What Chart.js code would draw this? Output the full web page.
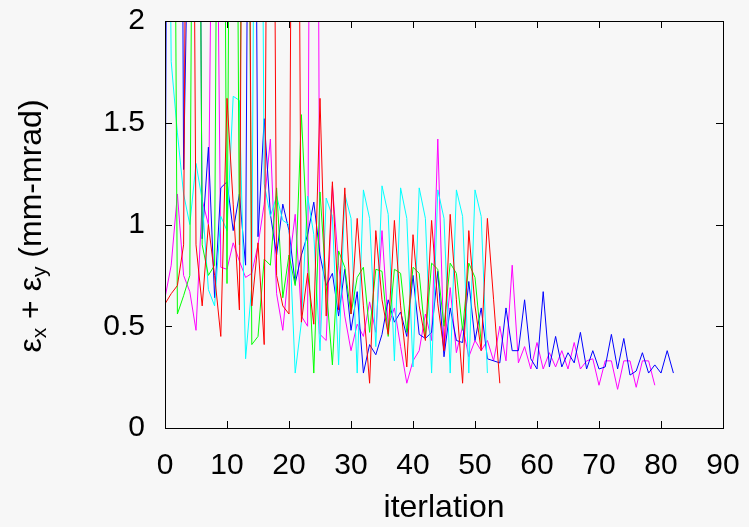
<!DOCTYPE html>
<html>
<head>
<meta charset="utf-8">
<script src="https://cdn.jsdelivr.net/npm/chart.js@4"></script>
<style>
  html, body { margin: 0; padding: 0; background: #f7f7f7; }
  #wrap { width: 749px; height: 527px; }
</style>
</head>
<body>
<div id="wrap"><canvas id="myChart" width="749" height="527"></canvas></div>
<script>
// emittance per iteration, one list per run (values above 2 are off the top of the plot)
const redVals = [0.61, 0.66, 0.7, 0.9, 6, 0.9, 0.6, 1.0, 0.75, 0.45, 1.62, 1.1, 0.58, 6, 0.6, 0.91, 0.41, 6, 0.75, 0.6,
    0.56, 6, 0.52, 0.76, 0.51, 1.62, 0.55, 1.21, 0.58, 1.18, 0.56, 1.03, 0.6, 0.22, 0.97, 0.63, 0.46, 1.02, 0.6, 0.3,
    0.95, 0.6, 0.43, 1.02, 0.61, 0.38, 1.05, 0.63, 0.22, 0.97, 0.6, 0.38, 1.03, 0.63, 0.22];
const greenVals = [6, 6, 0.56, 0.65, 0.75, 6, 0.9, 0.75, 0.8, 6, 0.71, 6, 0.9, 6, 0.41, 0.45, 0.83, 0.8, 1.18, 0.64,
    0.85, 0.7, 1.54, 0.9, 0.27, 1.16, 0.7, 0.31, 0.87, 0.79, 0.56, 0.74, 0.79, 0.47, 0.78, 0.77, 0.45, 0.78, 0.76, 0.47,
    0.79, 0.76, 0.44, 0.81, 0.78, 0.5, 0.81, 0.76, 0.48, 0.81, 0.74, 0.42];
const cyanVals = [5, 1.8, 1.45, 1.15, 1.0, 1.3, 1.12, 0.68, 0.6, 1.04, 0.97, 1.63, 1.61, 0.34, 0.7, 6, 1.2, 1.04, 1.14, 1.02,
    1.0, 0.27, 0.52, 1.14, 0.95, 0.38, 1.13, 1.04, 0.31, 1.15, 1.03, 0.27, 1.17, 1.03, 0.4, 1.19, 1.05, 0.33, 1.18, 1.03,
    0.3, 1.18, 1.03, 0.27, 1.17, 1.03, 0.27, 1.17, 1.04, 0.27, 1.17, 1.04, 0.27];
const blueVals = [0.69, 8, 8, 1.27, 3, 6, 0.93, 1.38, 0.64, 1.18, 1.21, 0.97, 1.15, 0.8, 6, 0.94, 1.52, 1.05, 0.85, 1.1,
    0.97, 0.71, 0.85, 0.95, 1.11, 0.85, 0.7, 0.76, 0.55, 0.78, 0.48, 0.67, 0.27, 0.41, 0.36, 0.46, 0.63, 0.52, 0.57, 0.45,
    0.75, 0.46, 0.44, 0.47, 0.77, 0.35, 0.59, 0.43, 0.42, 0.72, 0.43, 0.59, 0.34, 0.33, 0.32, 0.59, 0.38, 0.38, 0.63, 0.34,
    0.29, 0.67, 0.3, 0.45, 0.3, 0.37, 0.32, 0.47, 0.29, 0.38, 0.29, 0.3, 0.46, 0.29, 0.44, 0.26, 0.28, 0.37, 0.27, 0.31,
    0.27, 0.38, 0.27];
const magentaVals = [0.64, 0.8, 1.15, 0.75, 0.67, 0.48, 1.12, 1.0, 4, 0.79, 0.78, 0.91, 0.82, 0.74, 0.76, 0.9, 1.1, 1.42, 0.66, 0.48,
    0.8, 1.05, 0.55, 0.5, 8, 0.46, 0.43, 1.19, 0.8, 0.55, 0.38, 0.51, 0.45, 0.62, 0.47, 0.97, 0.5, 0.59, 0.4, 0.22,
    0.33, 0.38, 0.56, 0.43, 1.42, 0.38, 0.69, 0.37, 0.5, 0.35, 0.43, 0.38, 0.43, 0.33, 0.5, 0.33, 0.8, 0.32, 0.4, 0.29,
    0.42, 0.29, 0.37, 0.3, 0.38, 0.29, 0.42, 0.29, 0.33, 0.34, 0.21, 0.33, 0.33, 0.19, 0.33, 0.33, 0.2, 0.33, 0.33, 0.21];

const xTicks = [0, 10, 20, 30, 40, 50, 60, 70, 80, 90];
const yTicks = [0, 0.5, 1, 1.5, 2];

const FONT = 'Liberation Sans, Arial, sans-serif';

// iteration number is the position in the list
function toPoints(vals) {
    return vals.map((v, i) => ({ x: i, y: v }));
}

function series(vals, color) {
    return {
        data: toPoints(vals),
        borderColor: color,
        backgroundColor: color,
        borderWidth: 1,
        pointRadius: 0,
        tension: 0,
        fill: false
    };
}

// frame, mirrored inward ticks and axis titles, gnuplot style
const framePlugin = {
    id: 'frame',
    afterDraw(chart) {
        const ctx = chart.ctx;
        const a = chart.chartArea;
        const xs = chart.scales.x;
        const ys = chart.scales.y;
        const len = 7;
        ctx.save();
        ctx.strokeStyle = '#000';
        ctx.lineWidth = 1;
        ctx.beginPath();
        xTicks.forEach(t => {
            const px = Math.round(xs.getPixelForValue(t)) + 0.5;
            ctx.moveTo(px, a.bottom); ctx.lineTo(px, a.bottom - len);
            ctx.moveTo(px, a.top); ctx.lineTo(px, a.top + len);
        });
        yTicks.forEach(t => {
            const py = Math.round(ys.getPixelForValue(t)) + 0.5;
            ctx.moveTo(a.left, py); ctx.lineTo(a.left + len, py);
            ctx.moveTo(a.right, py); ctx.lineTo(a.right - len, py);
        });
        ctx.stroke();
        ctx.strokeRect(Math.round(a.left) + 0.5, Math.round(a.top) + 0.5,
            Math.round(a.right - a.left), Math.round(a.bottom - a.top));

        // x title
        ctx.fillStyle = '#000';
        ctx.font = '32px ' + FONT;
        ctx.textAlign = 'center';
        ctx.textBaseline = 'middle';
        ctx.fillText('iterlation', (a.left + a.right) / 2, 508);

        // y title with subscripts, rotated
        const big = '32px ' + FONT;
        const small = '21px ' + FONT;
        const parts = [
            ['ε', big, 0], ['x', small, 8], [' + ε', big, 0], ['y', small, 8], [' (mm-mrad)', big, 0]
        ];
        let total = 0;
        parts.forEach(p => { ctx.font = p[1]; total += ctx.measureText(p[0]).width; });
        ctx.translate(32, 226);
        ctx.rotate(-Math.PI / 2);
        ctx.textAlign = 'left';
        let x = -total / 2;
        parts.forEach(p => {
            ctx.font = p[1];
            ctx.fillText(p[0], x, p[2]);
            x += ctx.measureText(p[0]).width;
        });
        ctx.restore();
    }
};

const ctx = document.getElementById('myChart').getContext('2d');
new Chart(ctx, {
    type: 'line',
    data: {
        datasets: [
            series(redVals, '#ff0000'),
            series(greenVals, '#00ff00'),
            series(cyanVals, '#00ffff'),
            series(blueVals, '#0000ff'),
            series(magentaVals, '#ff00ff')
        ]
    },
    options: {
        responsive: false,
        animation: false,
        layout: { padding: { top: 21, right: 26, left: 0, bottom: 0 } },
        plugins: {
            legend: { display: false },
            tooltip: { enabled: false }
        },
        scales: {
            x: {
                type: 'linear',
                min: 0,
                max: 90,
                grid: { display: false, drawTicks: false },
                border: { display: false },
                afterFit(scale) {
                    scale.height = 99;
                    scale.paddingLeft = 0;
                    scale.paddingRight = 0;
                },
                afterBuildTicks(scale) { scale.ticks = xTicks.map(v => ({ value: v })); },
                ticks: {
                    color: '#000',
                    padding: 20,
                    maxRotation: 0,
                    font: { family: FONT, size: 30 }
                }
            },
            y: {
                type: 'linear',
                min: 0,
                max: 2,
                grid: { display: false, drawTicks: false },
                border: { display: false },
                afterFit(scale) {
                    scale.width = 165;
                    scale.paddingTop = 0;
                    scale.paddingBottom = 0;
                },
                afterBuildTicks(scale) { scale.ticks = yTicks.map(v => ({ value: v })); },
                ticks: {
                    color: '#000',
                    padding: 20,
                    font: { family: FONT, size: 30 },
                    callback: v => String(v)
                }
            }
        }
    },
    plugins: [framePlugin]
});
</script>
</body>
</html>
